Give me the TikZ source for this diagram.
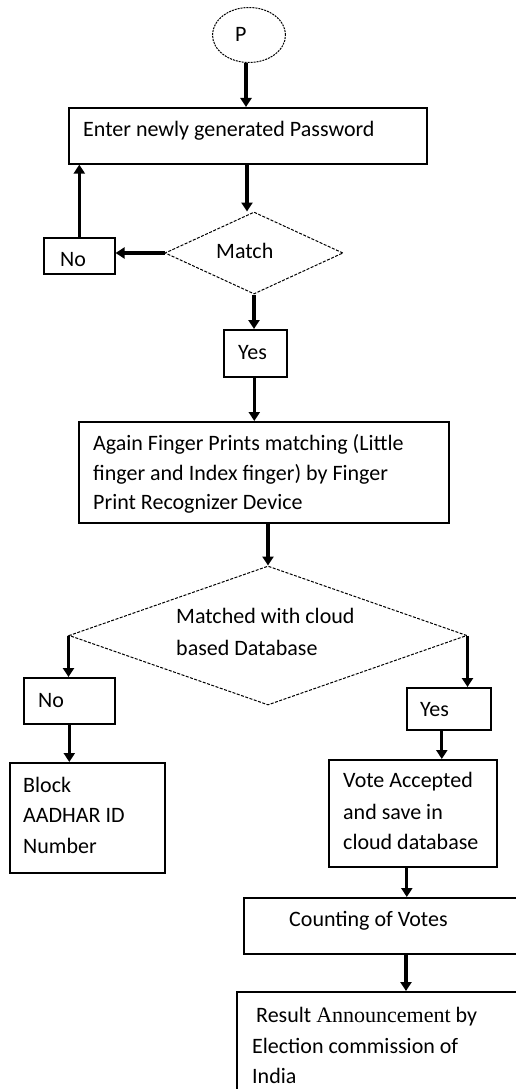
\documentclass[tikz,border=0pt]{standalone}
\usepackage{fontspec}
\setmainfont{Carlito}
\newfontfamily\timesfont{Liberation Serif}
\usetikzlibrary{shapes.geometric,arrows.meta,calc}
\begin{document}
\begin{tikzpicture}[x=1pt,y=-1pt,
  box/.style={draw=black,line width=1.6pt,rectangle,inner sep=0pt,anchor=north west},
  dia/.style={draw=black,line width=1pt,diamond,inner sep=0pt,dash pattern=on 3pt off 1.5pt},
  arr/.style={line width=3.3pt,-{Triangle[width=11pt,length=9pt]}},
  txt/.style={anchor=base west,inner sep=0pt,font=\fontsize{22}{30}\selectfont},
]
\useasboundingbox (0,0) rectangle (516,1089);
\clip (0,0) rectangle (516,1089);
\fill[white] (0,0) rectangle (516,1089);

% start
\node[draw=black,line width=1pt,ellipse,dash pattern=on 2pt off 1pt,minimum width=73pt,minimum height=55pt,inner sep=0pt] (p) at (249,35) {};
\node[txt] (ptxt) at (235,42) {P};

% box 1
\node[box,minimum width=358pt,minimum height=56pt] (b1) at (68,107) {};
\node[txt] (b1t) at (83,136) {Enter newly generated Password};

% match diamond
\node[dia,minimum width=178pt,minimum height=82pt] (m1) at (254,253) {};
\node[txt] (m1t) at (216,258) {Match};

% No 1
\node[box,minimum width=71pt,minimum height=36pt] (no1) at (43,237) {};
\node[txt] (no1t) at (60,266) {No};

% Yes 1
\node[box,minimum width=63pt,minimum height=47pt] (y1) at (223,329) {};
\node[txt] (y1t) at (238,359) {Yes};

% box 2
\node[box,minimum width=370pt,minimum height=101pt] (b2) at (78,421) {};
\node[txt] (b2t1) at (93,450) {Again Finger Prints matching (Little};
\node[txt] (b2t2) at (93,480) {finger and Index finger) by Finger};
\node[txt] (b2t3) at (93,509) {Print Recognizer Device};

% diamond 2
\node[dia,minimum width=398pt,minimum height=139pt] (m2) at (268,635.5) {};
\node[txt] (m2t1) at (176,623) {Matched with cloud};
\node[txt] (m2t2) at (176,655) {based Database};

% No 2
\node[box,minimum width=91pt,minimum height=46pt] (no2) at (23,677) {};
\node[txt] (no2t) at (38,707) {No};

% Block
\node[box,minimum width=155pt,minimum height=110pt] (blk) at (9,762) {};
\node[txt] (blkt1) at (23,792) {Block};
\node[txt] (blkt2) at (23,822) {AADHAR ID};
\node[txt] (blkt3) at (23,853) {Number};

% Yes 2
\node[box,minimum width=84pt,minimum height=42pt] (y2) at (406,687) {};
\node[txt] (y2t) at (420,716) {Yes};

% Vote
\node[box,minimum width=168pt,minimum height=107pt] (vote) at (328,759) {};
\node[txt] (vt1) at (343,787) {Vote Accepted};
\node[txt] (vt2) at (343,819) {and save in};
\node[txt] (vt3) at (343,849) {cloud database};

% Counting
\node[box,minimum width=290pt,minimum height=56pt] (cnt) at (243,897) {};
\node[txt] (cntt) at (289,926) {Counting of Votes};

% Result
\node[box,minimum width=300pt,minimum height=120pt] (res) at (236,991) {};
\node[txt] (rt1) at (256,1022) {Result {\timesfont Announcement} by};
\node[txt] (rt2) at (252,1053) {Election commission of};
\node[txt] (rt3) at (252,1083) {India};

% connectors
\draw[arr] ($(p.south)+(-3,0)$) -- ($(p.south |- b1.north)+(-3,0)$);
\draw[arr] ($(m1.north |- b1.south)+(-7,0)$) -- ($(m1.north)+(-7,0)$);
\draw[arr] (m1.west) -- (m1.west -| no1.east);
\draw[arr] (no1.north) -- (no1.north |- b1.south);
\draw[arr] (m1.south) -- (m1.south |- y1.north);
\draw[arr] ($(y1.south)+(-1,0)$) -- ($(y1.south |- b2.north)+(-1,0)$);
\draw[arr] (m2.north |- b2.south) -- (m2.north);
\draw[arr] (m2.west) -- (m2.west |- no2.north);
\draw[arr] (no2.south) -- (no2.south |- blk.north);
\draw[arr] (m2.east) -- (m2.east |- y2.north);
\draw[arr] ($(y2.south)+(-7,0)$) -- ($(y2.south |- vote.north)+(-7,0)$);
\draw[arr] ($(vote.south)+(-6,0)$) -- ($(vote.south |- cnt.north)+(-6,0)$);
\draw[arr] ($(cnt.south west)+(163,0)$) -- ($(cnt.south west |- res.north)+(163,0)$);
\end{tikzpicture}
\end{document}
